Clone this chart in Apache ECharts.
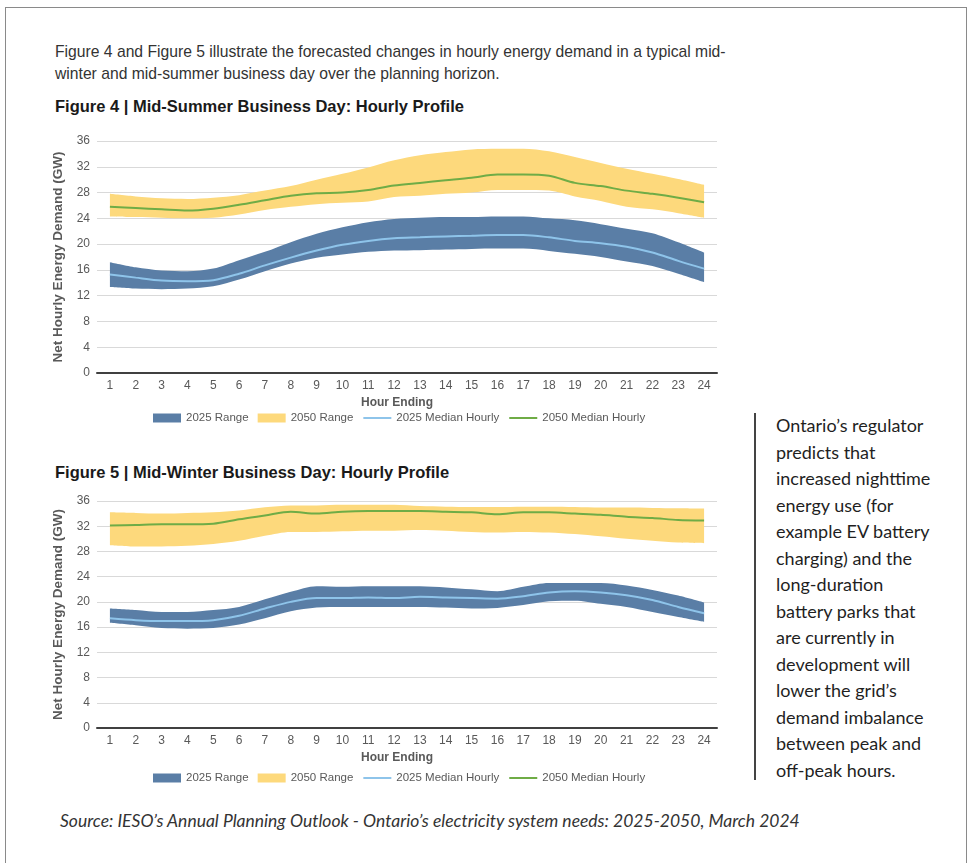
<!DOCTYPE html>
<html>
<head>
<meta charset="utf-8">
<script src="https://cdn.jsdelivr.net/npm/echarts@6/dist/echarts.min.js"></script>
<style>
  body { margin: 0; background: #fff; }
  .page { position: relative; width: 972px; height: 863px; overflow: hidden; }
  .frame { position: absolute; left: 5px; top: 7px; width: 960px; height: 870px; border: 1.5px solid #8a8a8a; }
  .intro { position: absolute; left: 55px; top: 41px; font: 15.7px 'Liberation Sans', Arial, sans-serif; line-height: 22px; color: #333; }
  .fig-title { position: absolute; left: 55px; font: bold 16.5px 'Liberation Sans', Arial, sans-serif; color: #1a1a1a; }
  .chart { position: absolute; left: 0; width: 740px; height: 310px; }
  .side { position: absolute; left: 776px; top: 412px; width: 190px; font: 18px Lato, sans-serif; line-height: 26.5px; color: #1f1f1f; }
  .vline { position: absolute; left: 754px; top: 413px; width: 1.5px; height: 367px; background: #444; }
  .source { position: absolute; left: 60px; top: 810px; font: italic 17.5px Lato, sans-serif; line-height: 22px; color: #333; }
</style>
</head>
<body>
<div class="page">
  <div class="frame"></div>
  <div class="intro">Figure 4 and Figure 5 illustrate the forecasted changes in hourly energy demand in a typical mid-<br>winter and mid-summer business day over the planning horizon.</div>
  <div class="fig-title" style="top:97px">Figure 4 | Mid-Summer Business Day: Hourly Profile</div>
  <div id="summer" class="chart" style="top:120px"></div>
  <div class="fig-title" style="top:463px">Figure 5 | Mid-Winter Business Day: Hourly Profile</div>
  <div id="winter" class="chart" style="top:480px"></div>
  <div class="vline"></div>
  <div class="side">Ontario’s regulator<br>predicts that<br>increased nighttime<br>energy use (for<br>example EV battery<br>charging) and the<br>long-duration<br>battery parks that<br>are currently in<br>development will<br>lower the grid’s<br>demand imbalance<br>between peak and<br>off-peak hours.</div>
  <div class="source">Source: IESO’s Annual Planning Outlook - Ontario’s electricity system needs: 2025-2050, March 2024</div>
</div>
<script>
const hours = ['1','2','3','4','5','6','7','8','9','10','11','12','13','14','15','16','17','18','19','20','21','22','23','24']

// Figure 4 - summer
const s25Low  = [13.35,13.1,13.0,13.1,13.45,14.5,15.8,17.0,17.9,18.4,18.8,19.0,19.05,19.15,19.25,19.3,19.3,18.95,18.5,18.0,17.3,16.6,15.4,14.1]
const s25High = [17.2,16.4,15.9,15.8,16.2,17.5,18.8,20.3,21.6,22.6,23.4,23.9,24.1,24.2,24.2,24.3,24.3,24.0,23.7,23.1,22.4,21.7,20.3,18.7]
const s25Med  = [15.3,14.8,14.35,14.25,14.4,15.4,16.7,17.9,19.0,19.9,20.5,20.9,21.05,21.2,21.3,21.4,21.4,21.05,20.5,20.15,19.6,18.7,17.4,16.2]
const s50Low  = [24.3,24.2,24.1,24.0,24.1,24.6,25.3,25.8,26.2,26.4,26.6,27.3,27.5,27.8,28.0,28.4,28.4,28.3,27.4,26.7,25.8,25.4,24.8,24.1]
const s50High = [27.8,27.4,27.1,27.0,27.2,27.6,28.3,29.0,30.0,30.9,31.9,33.0,33.8,34.3,34.7,34.8,34.8,34.4,33.5,32.6,31.7,30.9,30.1,29.2]
const s50Med  = [25.8,25.6,25.4,25.2,25.5,26.1,26.8,27.5,27.9,28.0,28.4,29.1,29.5,29.9,30.3,30.8,30.8,30.6,29.5,29.0,28.3,27.8,27.2,26.5]

// Figure 5 - winter
const w25Low  = [16.7,16.3,15.85,15.75,15.85,16.4,17.4,18.5,19.1,19.2,19.2,19.2,19.2,19.1,18.95,19.05,19.5,20.1,20.2,19.7,19.2,18.4,17.6,16.85]
const w25High = [18.95,18.7,18.4,18.4,18.7,19.2,20.4,21.6,22.5,22.4,22.5,22.5,22.5,22.3,22.0,21.7,22.4,23.0,23.0,23.0,22.6,21.9,21.0,19.9]
const w25Med  = [17.4,17.1,16.95,16.95,17.1,17.8,18.95,20.0,20.6,20.6,20.7,20.6,20.8,20.7,20.6,20.5,20.9,21.5,21.7,21.5,21.05,20.3,19.2,18.2]
const w50Low  = [29.0,28.8,28.8,28.9,29.2,29.7,30.5,31.1,31.1,31.2,31.3,31.3,31.4,31.3,31.1,31.0,31.1,31.0,30.75,30.4,30.0,29.7,29.4,29.3]
const w50High = [34.2,34.1,34.0,34.1,34.2,34.5,35.0,35.3,35.3,35.4,35.4,35.4,35.2,35.1,35.05,35.05,35.1,35.1,35.05,34.95,34.95,34.9,34.85,34.8]
const w50Med  = [32.1,32.2,32.3,32.3,32.4,33.1,33.7,34.3,34.0,34.3,34.4,34.4,34.4,34.3,34.2,33.9,34.2,34.2,34.0,33.8,33.5,33.3,33.0,32.9]

const blueBand = '#5a7ea6'
const yellowBand = '#fdd97c'
const blueLine = '#8ec4ea'
const greenLine = '#6fac46'
const font = "'Liberation Sans', Arial, sans-serif"

// band = invisible lower line + stacked difference filled as area
const band = (name, stack, low, high, color) => [
  {
    type: 'line', name: name + ' base', stack, data: low, smooth: 0.3,
    symbol: 'none', lineStyle: { opacity: 0 }, silent: true
  },
  {
    type: 'line', name, stack, data: high.map((v, i) => +(v - low[i]).toFixed(2)), smooth: 0.3,
    symbol: 'none', lineStyle: { width: 0 }, itemStyle: { color },
    areaStyle: { color, opacity: 1 }
  }
]

const median = (name, data, color) => ({
  type: 'line', name, data, smooth: 0.3, symbol: 'none',
  itemStyle: { color }, lineStyle: { color, width: 2 }
})

const makeOption = (g) => ({
  animation: false,
  textStyle: { fontFamily: font },
  grid: { left: 97, width: 620, top: 21, height: g.height },
  legend: {
    left: 148, top: 287, itemWidth: 28, itemHeight: 9, itemGap: 9,
    textStyle: { color: '#595959', fontSize: 11.5, fontFamily: font },
    data: [
      { name: '2025 Range', icon: 'rect' },
      { name: '2050 Range', icon: 'rect' },
      { name: '2025 Median Hourly', itemStyle: { opacity: 0 } },
      { name: '2050 Median Hourly', itemStyle: { opacity: 0 } }
    ]
  },
  xAxis: {
    type: 'category', data: hours, boundaryGap: true,
    name: 'Hour Ending', nameLocation: 'middle', nameGap: 24,
    nameTextStyle: { fontWeight: 'bold', fontSize: 12, color: '#595959', padding: [0, 20, 0, 0] },
    axisLine: { lineStyle: { color: '#404040', width: 2 } },
    axisTick: { show: false },
    axisLabel: { color: '#595959', fontSize: 12, margin: 7 }
  },
  yAxis: {
    type: 'value', min: 0, max: 36, interval: 4,
    name: 'Net Hourly Energy Demand (GW)', nameLocation: 'middle', nameGap: 26,
    nameTextStyle: { fontWeight: 'bold', fontSize: 13.5, color: '#595959' },
    axisLine: { show: false }, axisTick: { show: false },
    axisLabel: { color: '#595959', fontSize: 12, margin: 7 },
    splitLine: { lineStyle: { color: '#d9d9d9', width: 1 } }
  },
  series: [
    ...band('2025 Range', 'b25', g.low25, g.high25, blueBand),
    ...band('2050 Range', 'b50', g.low50, g.high50, yellowBand),
    median('2025 Median Hourly', g.med25, blueLine),
    median('2050 Median Hourly', g.med50, greenLine)
  ]
})

const summerChart = echarts.init(document.getElementById('summer'))
summerChart.setOption(makeOption({
  height: 232, low25: s25Low, high25: s25High, med25: s25Med,
  low50: s50Low, high50: s50High, med50: s50Med
}))

const winterChart = echarts.init(document.getElementById('winter'))
winterChart.setOption(makeOption({
  height: 227, low25: w25Low, high25: w25High, med25: w25Med,
  low50: w50Low, high50: w50High, med50: w50Med
}))
</script>
</body>
</html>
